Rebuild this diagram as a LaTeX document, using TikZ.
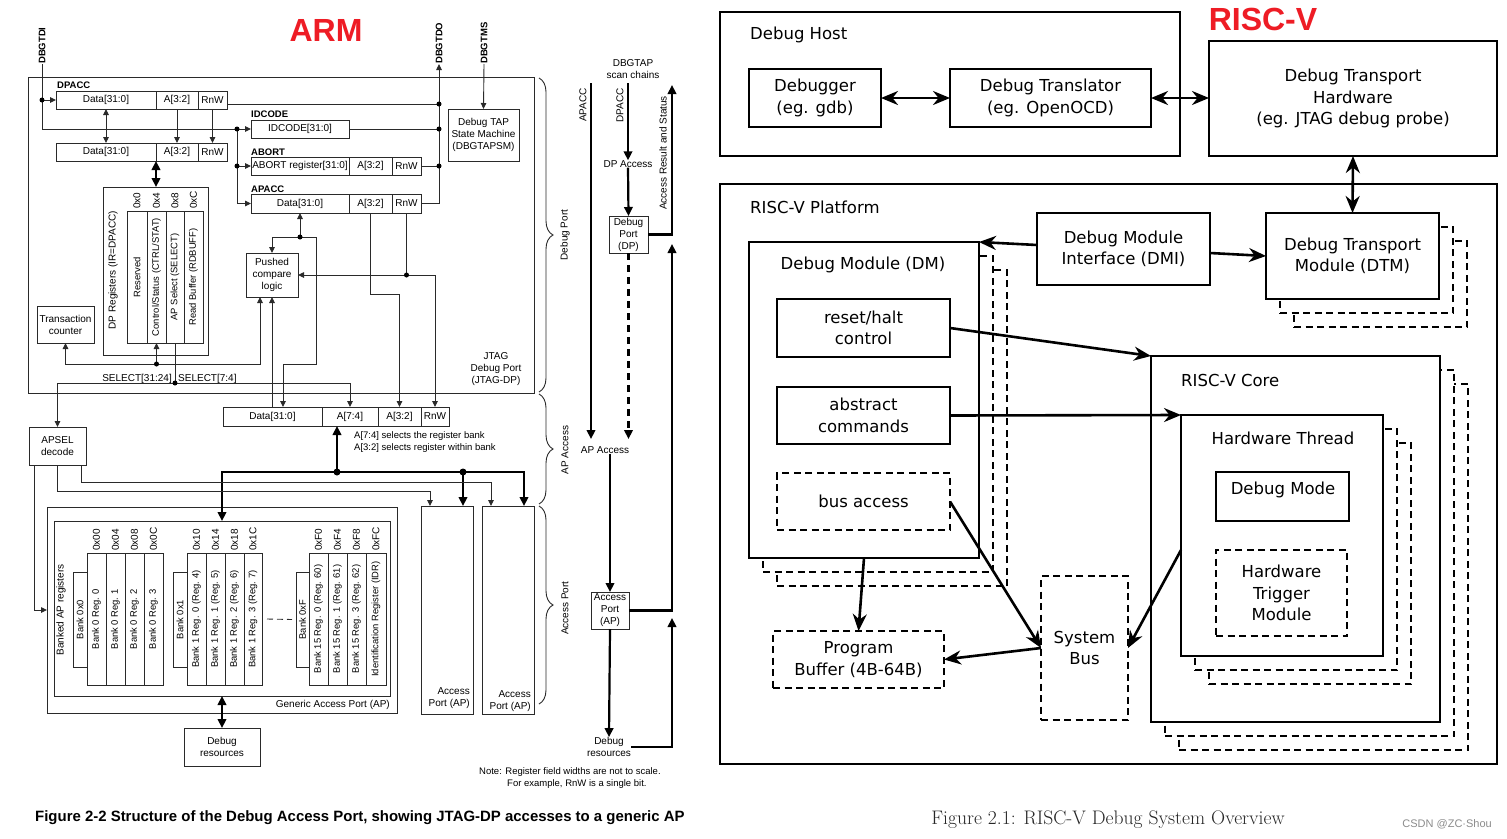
\documentclass[tikz,border=0pt]{standalone}
\usepackage{fontspec}
\usepackage{graphicx}
\newfontfamily\arial{Liberation Sans}
\newfontfamily\dejavu{DejaVu Sans}
\usetikzlibrary{arrows.meta,decorations.pathreplacing,calc}
\definecolor{armred}{HTML}{EE1C25}
\definecolor{lnc}{HTML}{2A2A2A}
\newcommand{\bx}[7][armbox]{\node[#1,minimum width={(#5-#3)*1pt},minimum height={(#6-#4)*1pt}] (#2) at ({(#3+#5)/2},{(#4+#6)/2}) {#7};}
\newcommand{\rot}[1]{\rotatebox{90}{#1}}
\tikzset{
 armbox/.style={draw=lnc,line width=0.9pt,fill=white,inner sep=0pt,outer sep=0pt,align=center,font=\arial\fontsize{10}{12}\selectfont},
 armcol/.style={armbox,font=\arial\fontsize{9.4}{11}\selectfont},
 armtxt/.style={inner sep=0pt,align=center,font=\arial\fontsize{10}{12}\selectfont},
 armsm/.style={inner sep=0pt,align=left,font=\arial\fontsize{9.5}{11.5}\selectfont},
 armbold/.style={inner sep=0pt,font=\arial\bfseries\fontsize{9.5}{11}\selectfont},
 armln/.style={draw=lnc,line width=0.9pt},
 armarr/.style={armln,-{Triangle[length=6pt,width=5.5pt]}},
 armarr2/.style={armln,{Triangle[length=6pt,width=5.5pt]}-{Triangle[length=6pt,width=5.5pt]}},
 thkln/.style={draw=black,line width=2.2pt},
 thkarr/.style={thkln,-{Triangle[length=9pt,width=8.5pt]}},
 thkarr2/.style={thkln,{Triangle[length=9pt,width=8.5pt]}-{Triangle[length=9pt,width=8.5pt]}},
 jdot/.style={circle,fill=black,inner sep=0pt,minimum size=5pt},
 bigdot/.style={circle,fill=black,inner sep=0pt,minimum size=7pt},
 brc/.style={armln,decorate,decoration={brace,amplitude=14pt}},
 rvbox/.style={draw=black,line width=2.6pt,fill=white,inner sep=0pt,outer sep=0pt,align=center,font=\dejavu\fontsize{16.5}{21.5}\selectfont},
 rvdash/.style={rvbox,dash pattern=on 7pt off 4.5pt},
 rvtxt/.style={inner sep=0pt,align=center,font=\dejavu\fontsize{16.5}{21.5}\selectfont},
 rvarr/.style={draw=black,line width=2.6pt,-{Stealth[length=17pt,width=14pt]}},
 rvarr2/.style={draw=black,line width=2.6pt,{Stealth[length=17pt,width=14pt]}-{Stealth[length=17pt,width=14pt]}},
 redtitle/.style={inner sep=0pt,text=armred,font=\arial\bfseries\fontsize{32}{36}\selectfont}
}
\begin{document}
\begin{tikzpicture}[x=1pt,y=-1pt]
\useasboundingbox (0,0) rectangle (1507,838);
\fill[white] (0,0) rectangle (1507,838);
%%%%%%%%%%%%%%%% ARM
\node[redtitle] (armt) at (326,30) {ARM};
\bx{jdp}{28}{77}{534}{393}{}
\bx{gout}{47}{507}{397}{713}{}
\bx{gin}{54}{521}{390}{696}{}
\node[armtxt] (jdpl) at (496,369) {JTAG\\Debug Port\\(JTAG-DP)};
\node[armtxt,anchor=east] (gapl) at (390,704.5) {Generic Access Port (AP)};
% pins
\node[armbold,rotate=90,anchor=west] (tdi) at (42,64) {DBGTDI};
\node[armbold,rotate=90,anchor=west] (tdo) at (439,64) {DBGTDO};
\node[armbold,rotate=90,anchor=west] (tms) at (484,64) {DBGTMS};
% DPACC rows
\node[armbold,anchor=base west] (lbdp) at (57,88) {DPACC};
\bx{r1d}{56}{91}{156}{109}{Data[31:0]}
\bx{r1a}{156}{91}{198}{109}{A[3:2]}
\bx{r1r}{198}{91}{227}{109}{RnW}
\bx{r2d}{56}{143}{156}{161}{Data[31:0]}
\bx{r2a}{156}{143}{198}{161}{A[3:2]}
\bx{r2r}{198}{143}{227}{161}{RnW}
% IDCODE / ABORT / APACC
\node[armbold,anchor=base west] (lbid) at (251,117) {IDCODE};
\bx{idc}{251}{120}{349}{138}{IDCODE[31:0]}
\node[armbold,anchor=base west] (lbab) at (251,155) {ABORT};
\bx{abd}{251}{157}{349}{175}{ABORT register[31:0]}
\bx{aba}{349}{157}{392}{175}{A[3:2]}
\bx{abr}{392}{157}{421}{175}{RnW}
\node[armbold,anchor=base west] (lbap) at (251,192) {APACC};
\bx{apd}{251}{194}{349}{213}{Data[31:0]}
\bx{apa}{349}{194}{392}{213}{A[3:2]}
\bx{apr}{392}{194}{421}{213}{RnW}
\bx{tap}{448}{109}{519}{161}{Debug TAP\\State Machine\\(DBGTAPSM)}
% DP registers
\bx{dpr}{103}{187}{208}{355}{}
\node[armtxt,rotate=90] (dprl) at (113,270) {DP Registers (IR=DPACC)};
\bx[armcol]{c0}{127}{211}{147}{343}{\rot{Reserved}}
\bx[armcol]{c1}{147}{211}{166}{343}{\rot{Control/Status (CTRL/STAT)}}
\bx[armcol]{c2}{166}{211}{184}{343}{\rot{AP Select (SELECT)}}
\bx[armcol]{c3}{184}{211}{203}{343}{\rot{Read Buffer (RDBUFF)}}
\node[armtxt,rotate=90,anchor=west] (hd0) at (137,209) {0x0};
\node[armtxt,rotate=90,anchor=west] (hd1) at (156.5,209) {0x4};
\node[armtxt,rotate=90,anchor=west] (hd2) at (175,209) {0x8};
\node[armtxt,rotate=90,anchor=west] (hd3) at (193.5,209) {0xC};
\bx{tc}{37}{306}{94}{343}{Transaction\\counter}
\bx{pc}{246}{253}{298}{297}{Pushed\\compare\\logic}
\bx{apsel}{29}{427}{86}{465}{APSEL\\decode}
\node[armtxt,anchor=base east] (sel1) at (172,381) {SELECT[31:24]};
\node[armtxt,anchor=base west] (sel2) at (178,381) {SELECT[7:4]};
% lower row
\bx{ld}{223}{407}{322}{426}{Data[31:0]}
\bx{la}{322}{407}{378}{426}{A[7:4]}
\bx{l32}{378}{407}{421}{426}{A[3:2]}
\bx{lr}{421}{407}{449}{426}{RnW}
\node[armsm,anchor=west] (nt1) at (354,436) {A[7:4] selects the register bank};
\node[armsm,anchor=west] (nt2) at (354,448) {A[3:2] selects register within bank};
% AP boxes
\bx{ap1}{421}{506}{473}{714}{}
\bx{ap2}{482}{506}{534}{714}{}
\node[armtxt,align=right,anchor=south east] (ap1l) at (470,709) {Access\\Port (AP)};
\node[armtxt,align=right,anchor=south east] (ap2l) at (531,712) {Access\\Port (AP)};
\bx{dres}{184}{728}{260}{766}{Debug\\resources}
% banks
\node[armtxt,rotate=90] (bapl) at (61,610) {Banked AP registers};
\bx[armcol]{bk0}{73}{572}{87}{667}{\rot{Bank 0x0}}
\bx[armcol]{b00}{87}{553}{106}{685}{\rot{Bank 0 Reg. 0}}
\bx[armcol]{b01}{106}{553}{125}{685}{\rot{Bank 0 Reg. 1}}
\bx[armcol]{b02}{125}{553}{144}{685}{\rot{Bank 0 Reg. 2}}
\bx[armcol]{b03}{144}{553}{163}{685}{\rot{Bank 0 Reg. 3}}
\node[armtxt,rotate=90,anchor=west] (hb00) at (96.5,551) {0x00};
\node[armtxt,rotate=90,anchor=west] (hb01) at (115.5,551) {0x04};
\node[armtxt,rotate=90,anchor=west] (hb02) at (134.5,551) {0x08};
\node[armtxt,rotate=90,anchor=west] (hb03) at (153.5,551) {0x0C};
\bx[armcol]{bk1}{173}{572}{187}{667}{\rot{Bank 0x1}}
\bx[armcol]{b10}{187}{553}{206}{685}{\rot{Bank 1 Reg. 0 (Reg. 4)}}
\bx[armcol]{b11}{206}{553}{225}{685}{\rot{Bank 1 Reg. 1 (Reg. 5)}}
\bx[armcol]{b12}{225}{553}{244}{685}{\rot{Bank 1 Reg. 2 (Reg. 6)}}
\bx[armcol]{b13}{244}{553}{262}{685}{\rot{Bank 1 Reg. 3 (Reg. 7)}}
\node[armtxt,rotate=90,anchor=west] (hb10) at (196.5,551) {0x10};
\node[armtxt,rotate=90,anchor=west] (hb11) at (215.5,551) {0x14};
\node[armtxt,rotate=90,anchor=west] (hb12) at (234.5,551) {0x18};
\node[armtxt,rotate=90,anchor=west] (hb13) at (253,551) {0x1C};
\bx[armcol]{bkf}{296}{572}{309}{667}{\rot{Bank 0xF}}
\bx[armcol]{bf0}{309}{553}{328}{685}{\rot{Bank 15 Reg. 0 (Reg. 60)}}
\bx[armcol]{bf1}{328}{553}{347}{685}{\rot{Bank 15 Reg. 1 (Reg. 61)}}
\bx[armcol]{bf2}{347}{553}{366}{685}{\rot{Bank 15 Reg. 3 (Reg. 62)}}
\bx[armcol]{bf3}{366}{553}{386}{685}{\rot{Identification Register (IDR)}}
\node[armtxt,rotate=90,anchor=west] (hbf0) at (318.5,551) {0xF0};
\node[armtxt,rotate=90,anchor=west] (hbf1) at (337.5,551) {0xF4};
\node[armtxt,rotate=90,anchor=west] (hbf2) at (356.5,551) {0xF8};
\node[armtxt,rotate=90,anchor=west] (hbf3) at (376,551) {0xFC};
\draw[armln,dash pattern=on 6pt off 4pt] ([xshift=5pt]b13.east) -- ([xshift=-4pt]bkf.west);
% wiring top
\coordinate (tdiA) at (42,100);
\coordinate (tdiB) at (42,129);
\coordinate (jL1) at (237,129);
\coordinate (jL2) at (237,166);
\coordinate (jR1) at (439,104);
\coordinate (jR2) at (439,129);
\coordinate (jR3) at (439,166);
\draw[armln] (tdi.west) -- (tdiB) -- (jL1);
\draw[armarr] (tdiA) -- (r1d.west);
\draw[armarr] (jL1) -- (idc.west);
\draw[armarr] (jL2) -- (abd.west);
\draw[armarr] (jL1) -- (jL1 |- apd.west) -- (apd.west);
\draw[armln] ([yshift=-4pt]r1r.east) -- (jR1);
\draw[armln] (idc.east) -- (jR2);
\draw[armln] (abr.east) -- (jR3);
\draw[armarr] (apr.east) -- (apr.east -| tdo.west) -- (tdo.west);
\draw[armarr] (tms.west) -- (tap.north);
\draw[armarr2] (r1d.south) -- (r2d.north);
\draw[armarr] (r1a.south) -- (r2a.north);
\draw[armarr] (r1r.south) -- (r2r.north);
\draw[thkarr2] (r2d.south east) -- (r2d.south east |- dpr.north);
% wiring middle
\coordinate (jS) at (156.5,364);
\draw[armarr] (jS) -- (c1.south);
\draw[armarr] (jS) -| (tc.south);
\draw[armarr] (jS) -- (260,364) -- (260,297);
\coordinate (jSel) at (175,383);
\draw[armln] (c2.south) -- (jSel);
\draw[armarr] (jSel) -| (apsel.north);
\draw[armarr] (jSel) -| (la.north);
\coordinate (jD) at (300,237);
\draw[armarr] (jD) -- (apd.south);
\draw[armarr] (jD) -| (pc.north);
\draw[armarr] (jD) -- (316,237) -- (316,364) -- (283,364) -- (283,407);
\draw[armarr] (pc.south |- ld.north) -- (pc.south);
\coordinate (jRn) at (406.5,275);
\draw[armln] (apr.south) -- (jRn);
\draw[armarr] (jRn) -- (pc.east);
\draw[armarr] (jRn) -| (lr.north);
\draw[armarr] (apa.south) -- ++(0,81) -| (l32.north);
% thick bus
\coordinate (jB) at (337,472);
\coordinate (jB2) at (463,472);
\draw[thkarr] (jB) -- (jB |- la.south);
\draw[thkarr] (jB) -- (gin.north |- jB) -- (gin.north);
\draw[thkarr] (jB) -- (524,472) -- (524,506);
\draw[thkarr] (jB2) -- (463,506);
\draw[thkarr2] (gin.south) -- (dres.north);
% APSEL lines
\draw[armarr] ([xshift=5pt]apsel.south west) |- (gout.west);
\draw[armarr] (apsel.south) |- (430,491) -- (430,506);
\draw[armarr] ([xshift=-5pt]apsel.south east) |- (491,482) -- (491,506);
% dots
\foreach \p in {tdiA,jL1,jL2,jR1,jR2,jR3,jS,jSel,jD,jRn} \node[jdot] at (\p) {};
\node[bigdot] (dB1) at (jB) {};
\node[bigdot] (dB2) at (jB2) {};
% braces
\draw[brc] (539,78) -- (539,392);
\draw[brc] (539,394) -- (539,504);
\draw[brc] (539,506) -- (539,704);
\node[armtxt,rotate=90] (bl1) at (565,235) {Debug Port};
\node[armtxt,rotate=90] (bl2) at (565,450) {AP Access};
\node[armtxt,rotate=90] (bl3) at (565,608) {Access Port};
% right flow
\node[armtxt] (scan) at (633,69) {DBGTAP\\scan chains};
\node[armtxt,rotate=90,anchor=east] (lapacc) at (583,88) {APACC};
\node[armtxt,rotate=90,anchor=east] (ldpacc) at (620,88) {DPACC};
\node[armtxt] (dpacc) at (628,164) {DP Access};
\bx{dp}{609}{216}{648}{253}{Debug\\Port\\(DP)}
\node[armtxt] (apaccl) at (605,450) {AP Access};
\bx{ap}{591}{592}{629}{629}{Access\\Port\\(AP)}
\node[armtxt] (dres2) at (609,747) {Debug\\resources};
\node[armtxt,rotate=90] (ars) at (663,153) {Access Result and Status};
\draw[thkarr] (591,83) -- (591,439);
\draw[thkarr] (628,83) -- (dpacc.north);
\draw[thkarr] (dpacc.south) -- (dp.north);
\draw[thkln,dash pattern=on 7pt off 5pt,-{Triangle[length=9pt,width=8.5pt]}] (dp.south) -- (628.5,439);
\draw[thkarr] (dp.east) -| (672,85);
\draw[thkarr] (ap.north |- apaccl.south) -- (ap.north);
\draw[thkarr] (ap.south) -- (dres2.north);
\draw[thkarr] (ap.east) -| (672,244);
\draw[thkarr] (dres2.east) -| (672,618);
\node[armsm,anchor=west] (note1) at (479,772) {Note: Register field widths are not to scale.};
\node[armsm,anchor=west] (note2) at (507,784) {For example, RnW is a single bit.};
\node[inner sep=0pt,anchor=west,font=\arial\bfseries\fontsize{14.95}{17}\selectfont] (armcap) at (35,818) {Figure 2-2 Structure of the Debug Access Port, showing JTAG-DP accesses to a generic AP};
%%%%%%%%%%%%%%%% RISC-V
\node[redtitle] (rvt) at (1263,19) {RISC-V};
\bx[rvbox]{host}{720}{12}{1180}{156}{}
\node[rvtxt,anchor=west] (hostl) at (750,35) {Debug Host};
\bx[rvbox]{dbg}{749}{69}{881}{127}{Debugger\\(eg. gdb)}
\bx[rvbox]{dtr}{950}{69}{1151}{127}{Debug Translator\\(eg. OpenOCD)}
\bx[rvbox]{dth}{1209}{41}{1497}{156}{Debug Transport\\Hardware\\(eg. JTAG debug probe)}
\bx[rvbox]{plat}{720}{184}{1497}{764}{}
\node[rvtxt,anchor=west] (platl) at (750,207) {RISC-V Platform};
\bx[rvdash]{dtms2}{1294}{241}{1467}{327}{}
\bx[rvdash]{dtms1}{1280}{227}{1453}{313}{}
\bx[rvbox]{dtm}{1266}{213}{1439}{299}{Debug Transport\\Module (DTM)}
\bx[rvbox]{dmi}{1037}{213}{1210}{285}{Debug Module\\Interface (DMI)}
\bx[rvdash]{dms2}{777}{270}{1007}{586}{}
\bx[rvdash]{dms1}{763}{256}{993}{572}{}
\bx[rvbox]{dm}{749}{242}{979}{558}{}
\node[rvtxt] (dml) at (863,265) {Debug Module (DM)};
\bx[rvbox]{rh}{777}{299}{950}{357}{reset/halt\\control}
\bx[rvbox]{ac}{777}{387}{950}{444}{abstract\\commands}
\bx[rvdash]{ba}{777}{473}{950}{530}{bus access}
\bx[rvdash]{pb}{773}{631}{944}{688}{Program\\Buffer (4B-64B)}
\bx[rvdash]{sb}{1041}{576}{1128}{720}{System\\Bus}
\bx[rvdash]{cs2}{1179}{384}{1468}{750}{}
\bx[rvdash]{cs1}{1165}{370}{1454}{736}{}
\bx[rvbox]{core}{1151}{356}{1440}{722}{}
\node[rvtxt,anchor=west] (corel) at (1181,380) {RISC-V Core};
\bx[rvdash]{hs2}{1209}{443}{1411}{684}{}
\bx[rvdash]{hs1}{1195}{429}{1397}{670}{}
\bx[rvbox]{ht}{1181}{415}{1383}{656}{}
\node[rvtxt] (htl) at (1283,438) {Hardware Thread};
\bx[rvbox]{dmode}{1216}{472}{1349}{521}{}
\node[rvtxt] (dmodel) at (1283,490) {Debug Mode};
\bx[rvdash]{htm}{1216}{550}{1347}{636}{Hardware\\Trigger\\Module}
\draw[rvarr2] (dbg.east) -- (dtr.west);
\draw[rvarr2] (dtr.east) -- (dth.west |- dtr.east);
\draw[rvarr2] (dth.south) -- (dtm.north);
\draw[rvarr] ([yshift=4pt]dmi.west) -- (dm.north east);
\draw[rvarr] ([yshift=-4pt]dmi.east) -- (dtm.west);
\draw[rvarr] (rh.east) -- (core.north west);
\draw[rvarr] (ac.east) -- (ht.north west);
\draw[rvarr] (ba.east) -- (sb.west);
\draw[rvarr] (ht.west |- htm.north) -- (sb.east);
\draw[rvarr] (sb.west) -- (pb.east);
\draw[rvarr] (dm.south) -- (pb.north);
\node[inner sep=0pt,text=black!85,font=\fontsize{19.6}{22}\selectfont] (rvcap) at (1108,820) {Figure 2.1: RISC-V Debug System Overview};
\node[inner sep=0pt,anchor=east,text=black!45,font=\arial\fontsize{11}{13}\selectfont] (wm) at (1492,824) {CSDN @ZC·Shou};
\end{tikzpicture}
\end{document}
